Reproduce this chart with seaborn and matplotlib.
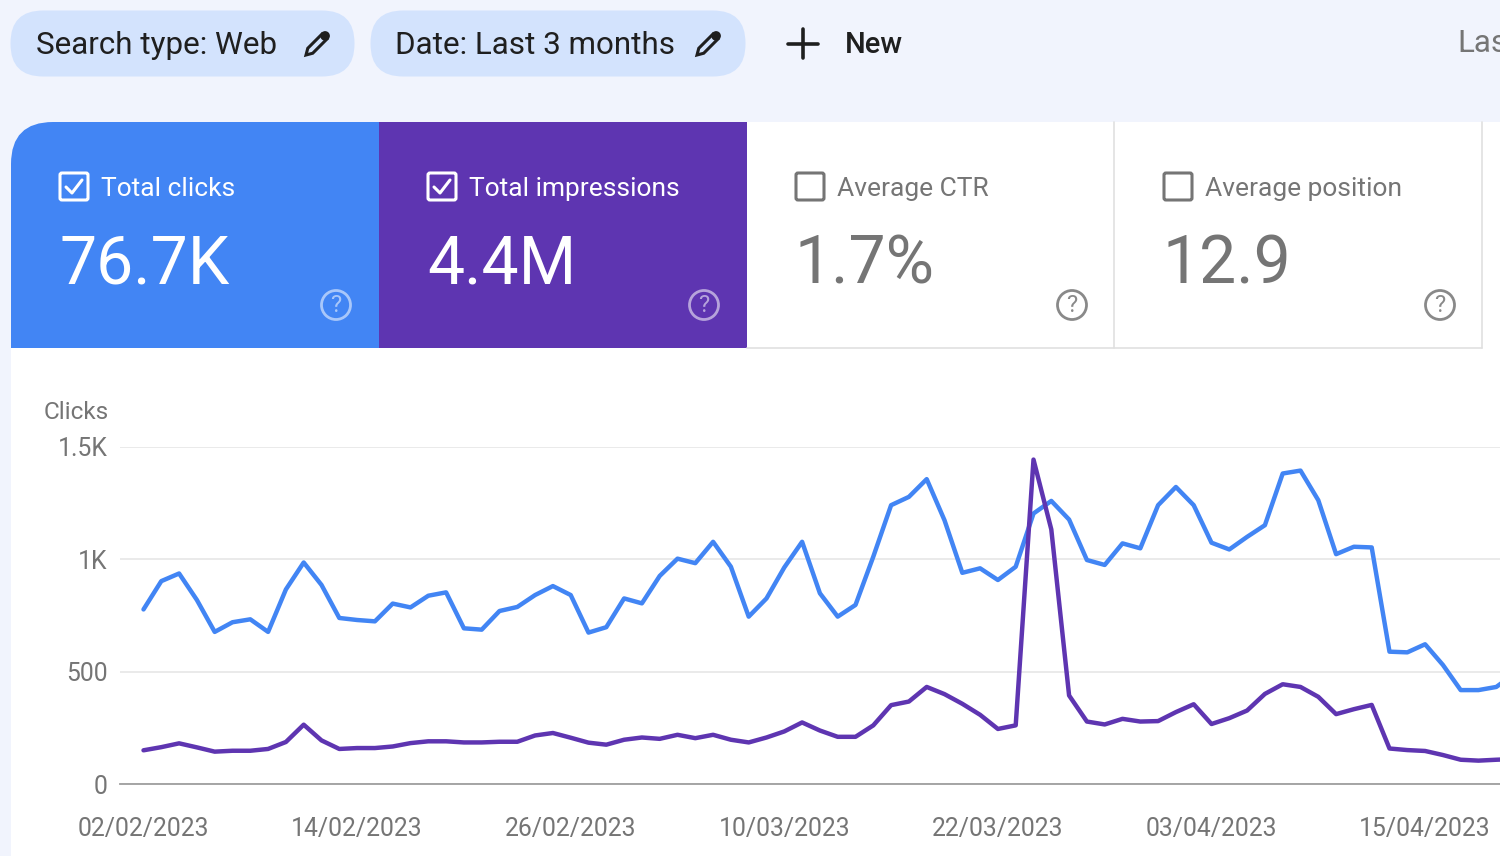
import numpy as np
import pandas as pd
import seaborn as sns
import matplotlib.pyplot as plt
import matplotlib.dates as mdates
from matplotlib.patches import Circle, FancyBboxPatch, PathPatch, Polygon, Rectangle
from matplotlib.path import Path

# Dati
clicks = [777, 903, 937, 819, 677, 720, 733, 677, 866, 986, 886, 739, 730, 724, 803, 786,
          838, 853, 693, 687, 770, 788, 841, 881, 841, 674, 698, 826, 804, 926, 1003, 983,
          1078, 967, 745, 826, 964, 1078, 849, 745, 797, 1012, 1241, 1278, 1357, 1174, 940, 960,
          908, 967, 1204, 1260, 1177, 997, 975, 1071, 1049, 1241, 1322, 1241, 1074, 1044, 1100, 1152,
          1382, 1395, 1263, 1023, 1056, 1053, 589, 586, 622, 530, 418, 418, 432, 490]
impressions = [150, 164, 181, 163, 144, 148, 148, 156, 187, 264, 194, 156, 160, 160, 167, 182,
               190, 190, 185, 185, 188, 188, 216, 227, 206, 184, 175, 197, 207, 201, 219, 204,
               219, 197, 185, 207, 234, 274, 238, 210, 210, 261, 351, 367, 432, 400, 357, 308,
               245, 261, 1444, 1133, 394, 278, 265, 290, 278, 280, 320, 355, 267, 293, 327, 401,
               444, 432, 388, 311, 333, 352, 158, 151, 147, 129, 108, 104, 108, 111]
dates = pd.date_range("2023-02-02", periods=len(clicks))
y_ticks = [0, 500, 1000, 1500]
y_labels = ["0", "500", "1K", "1.5K"]
tick_dates = dates[::12][:7]

BG = "#f1f4fd"
PILL = "#d3e3fd"
BLUE = "#4285f4"
PURPLE = "#5e35b1"
GREY = "#757575"
DARK = "#1f1f1f"
LINE = "#e0e0e0"

sns.set_theme(style="white")
plt.rcParams["font.family"] = ["Roboto", "DejaVu Sans"]

fig = plt.figure(figsize=(15, 8.56), dpi=100, facecolor=BG)

# Interfaccia, in coordinate pixel
ui = fig.add_axes([0, 0, 1, 1])
ui.set_xlim(0, 1500)
ui.set_ylim(856, 0)
ui.axis("off")


def pencil(x, y, color=DARK):
    tip = np.array([x - 11, y + 11])
    along = np.array([1, -1]) / np.sqrt(2)
    side = np.array([1, 1]) / np.sqrt(2)
    body = [tip, tip + along * 6 - side * 3.5, tip + along * 26 - side * 3.5,
            tip + along * 26 + side * 3.5, tip + along * 6 + side * 3.5]
    ui.add_patch(Polygon(body, closed=True, fc="none", ec=color, lw=2.2, zorder=3))
    ui.add_patch(Circle(tip + along * 27, 4.8, fc=color, ec="none", zorder=3))


def pill(x0, x1, label, pad):
    ui.add_patch(FancyBboxPatch((x0 + 32, 11 + 32), x1 - x0 - 64, 1,
                                boxstyle="round,pad=32.5", fc=PILL, ec="none"))
    ui.text(x0 + pad, 45, label, fontsize=22.6, color=DARK, va="center", ha="left")
    pencil(x1 - 37, 44)


def card(x0, title, value, checked):
    text_c = "white" if checked else GREY
    ui.text(x0 + 90, 188.5, title, fontsize=19, color=text_c, va="center", ha="left")
    ui.text(x0 + 48, 266, value, fontsize=47.5, color=text_c, va="center", ha="left")
    ui.add_patch(FancyBboxPatch((x0 + 51, 175), 24, 23, boxstyle="round,pad=2",
                                fc="none", ec=text_c, lw=2.2, zorder=3))
    if checked:
        ui.plot([x0 + 55, x0 + 61, x0 + 71], [187, 193, 180], color="white", lw=2.2, zorder=3)
    alpha = 0.55 if checked else 0.85
    ui.add_patch(Circle((x0 + 325, 305), 14.5, fc="none", ec=text_c, lw=2, alpha=alpha, zorder=3))
    ui.text(x0 + 325, 305.5, "?", fontsize=17, color=text_c, alpha=alpha, ha="center", va="center")


ui.add_patch(Rectangle((11, 122), 1489, 734, fc="white", ec="none"))
pill(11, 354, "Search type: Web", 25)
pill(371, 745, "Date: Last 3 months", 24)
ui.plot([803, 803], [29, 58], color=DARK, lw=2.6)
ui.plot([788, 818], [43.5, 43.5], color=DARK, lw=2.6)
ui.text(845, 45, "New", fontsize=21, color=DARK, va="center", ha="left", fontweight="medium")
ui.text(1457, 43, "Las", fontsize=22.5, color=GREY, va="center", ha="left")

# Schede in alto
r = 42
ui.add_patch(Rectangle((0, 122), 11, 734, fc=BG, ec="none"))
verts = [(11, 348), (11, 122 + r), (11, 122), (11 + r, 122), (379, 122), (379, 348), (11, 348)]
codes = [Path.MOVETO, Path.LINETO, Path.CURVE3, Path.CURVE3, Path.LINETO, Path.LINETO, Path.CLOSEPOLY]
ui.add_patch(Rectangle((11, 122), r, r, fc=BG, ec="none"))
ui.add_patch(PathPatch(Path(verts, codes), fc=BLUE, ec="none"))
ui.add_patch(Rectangle((379, 122), 368, 226, fc=PURPLE, ec="none"))
ui.plot([747, 1482], [347.5, 347.5], color=LINE, lw=1.2)
ui.plot([1114, 1114], [122, 348], color=LINE, lw=1.2)
ui.plot([1482, 1482], [122, 348], color=LINE, lw=1.2)
card(11, "Total clicks", "76.7K", True)
card(379, "Total impressions", "4.4M", True)
card(747, "Average CTR", "1.7%", False)
card(1115, "Average position", "12.9", False)
ui.text(43.5, 412.5, "Clicks", fontsize=17.6, color=GREY, va="center", ha="left")

# Grafico
ax = fig.add_axes([120 / 1500, (856 - 784) / 856, 1380 / 1500, 337 / 856])
ax.patch.set_alpha(0)
sns.lineplot(x=dates, y=clicks, color=BLUE, linewidth=3.2, ax=ax, estimator=None)
sns.lineplot(x=dates, y=impressions, color=PURPLE, linewidth=3.2, ax=ax, estimator=None)
start = mdates.date2num(dates[0])
ax.set_xlim(start - 23.5 / 17.8, start + 1356.5 / 17.8)
ax.set_ylim(0, 1500)
ax.set_xticks(tick_dates)
ax.set_xticklabels([d.strftime("%d/%m/%Y") for d in tick_dates], fontsize=17.8, color=GREY)
ax.set_yticks(y_ticks)
ax.set_yticklabels(y_labels, fontsize=17.8, color=GREY)
ax.tick_params(axis="both", length=0)
ax.tick_params(axis="x", pad=23.5)
ax.tick_params(axis="y", pad=9)
ax.set_xlabel("")
ax.set_ylabel("")
ax.yaxis.grid(True, color="#e8e8e8", linewidth=1.3)
ax.set_axisbelow(True)
sns.despine(ax=ax, left=True, right=True, top=True)
ax.spines["bottom"].set_color("#9e9e9e")
ax.spines["bottom"].set_linewidth(1.3)

fig.savefig("out.png", dpi=100, facecolor=BG)
